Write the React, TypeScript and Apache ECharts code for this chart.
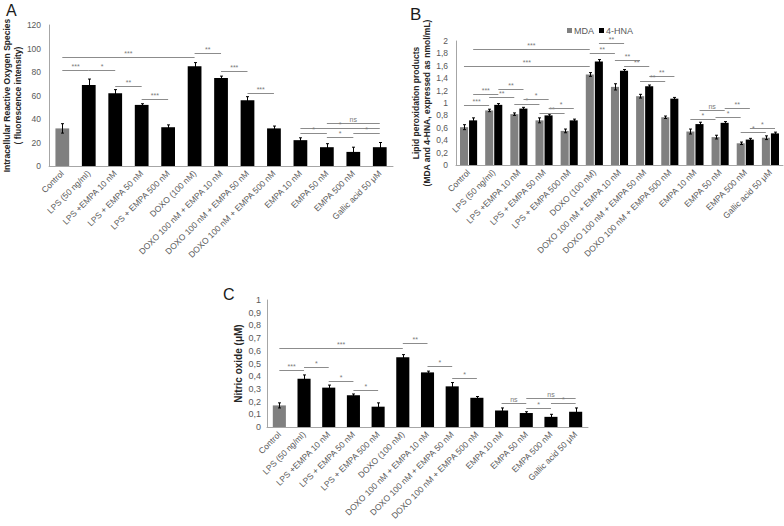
import React, { useEffect, useRef } from 'react';
import * as echarts from 'echarts';

const categories = [
  'Control',
  'LPS (50 ng/ml)',
  'LPS +EMPA 10 nM',
  'LPS + EMPA 50 nM',
  'LPS + EMPA 500 nM',
  'DOXO (100 nM)',
  'DOXO 100 nM + EMPA 10 nM',
  'DOXO 100 nM + EMPA 50 nM',
  'DOXO 100 nM + EMPA 500 nM',
  'EMPA 10 nM',
  'EMPA 50 nM',
  'EMPA 500 nM',
  'Gallic acid 50 μM',
];

// Panel A: intracellular ROS
const rosValues = [32, 69, 62, 52, 33, 85, 75, 56, 32, 22, 16, 12, 16];
const rosErrors = [4, 5, 3, 1, 2, 3, 1.5, 3, 2, 2, 3, 4, 4];

// Panel B: lipid peroxidation
const mdaValues = [0.61, 0.88, 0.82, 0.72, 0.55, 1.46, 1.26, 1.11, 0.77, 0.54, 0.45, 0.35, 0.44];
const mdaErrors = [0.04, 0.02, 0.02, 0.04, 0.03, 0.03, 0.05, 0.03, 0.02, 0.04, 0.03, 0.02, 0.03];
const hnaValues = [0.72, 0.97, 0.91, 0.8, 0.72, 1.67, 1.52, 1.27, 1.07, 0.66, 0.68, 0.41, 0.51];
const hnaErrors = [0.04, 0.02, 0.02, 0.02, 0.02, 0.03, 0.02, 0.02, 0.02, 0.03, 0.02, 0.02, 0.02];

// Panel C: nitric oxide
const noValues = [0.17, 0.38, 0.31, 0.25, 0.16, 0.55, 0.43, 0.32, 0.23, 0.13, 0.11, 0.08, 0.12];
const noErrors = [0.02, 0.03, 0.02, 0.01, 0.03, 0.02, 0.01, 0.03, 0.01, 0.02, 0.01, 0.02, 0.03];

// significance brackets: [fromIdx, toIdx, yValue, label]
const bracketsA: [number, number, number, string][] = [
  [0, 1, 82, '***'], [1, 2, 82, '*'], [2, 3, 68, '**'], [3, 4, 57, '***'],
  [0, 5, 93, '***'], [5, 6, 96.5, '**'], [6, 7, 81, '***'], [7, 8, 62, '***'],
  [10, 12, 36.3, 'ns'], [9, 12, 32.6, '*'], [9, 10, 28.3, '*'], [10, 11, 24.4, '*'], [11, 12, 28.3, '*'],
];
// [fromIdx, fromSide, toIdx, toSide, yValue, label] side -1 = MDA, 1 = 4-HNA
const bracketsB: [number, number, number, number, number, string][] = [
  [0, -1, 5, -1, 1.59, '***'], [0, 1, 5, -1, 1.87, '***'],
  [5, 1, 6, 1, 1.96, '**'], [5, -1, 6, -1, 1.81, '**'],
  [6, -1, 7, -1, 1.69, '**'], [6, 1, 7, 1, 1.6, '**'],
  [7, 1, 8, 1, 1.43, '**'], [7, -1, 8, -1, 1.36, '**'],
  [0, -1, 1, -1, 0.97, '***'], [0, 1, 1, 1, 1.15, '***'],
  [1, -1, 2, -1, 1.1, '**'], [1, 1, 2, 1, 1.23, '**'],
  [2, -1, 3, -1, 0.98, '*'], [2, 1, 3, 1, 1.06, '*'],
  [3, -1, 4, -1, 0.84, '**'], [3, 1, 4, 1, 0.92, '*'],
  [9, -1, 10, -1, 0.75, '*'], [9, 1, 10, 1, 0.88, 'ns'],
  [10, -1, 11, -1, 0.78, '*'], [10, 1, 11, 1, 0.92, '**'],
  [11, -1, 12, -1, 0.53, '*'], [11, 1, 12, 1, 0.6, '*'],
];
const bracketsC: [number, number, number, string][] = [
  [0, 5, 0.62, '***'], [5, 6, 0.66, '**'], [0, 1, 0.445, '***'], [1, 2, 0.47, '*'],
  [2, 3, 0.36, '*'], [3, 4, 0.29, '*'], [6, 7, 0.48, '*'], [7, 8, 0.385, '*'],
  [9, 10, 0.19, 'ns'], [10, 12, 0.225, 'ns'], [10, 11, 0.15, '*'], [11, 12, 0.19, '*'],
];

const FONT = 'Liberation Sans, Arial, sans-serif';
const GRAY = '#808080';
const LINE = '#8c8c8c';
const SIDE_FRAC = 0.183;

function bracketSeries(idx: number, list: { from: number; fs: number; to: number; ts: number; y: number; label: string }[]) {
  return {
    type: 'custom',
    xAxisIndex: idx,
    yAxisIndex: idx,
    silent: true,
    z: 5,
    data: list.map((b) => [b.from, b.y]),
    renderItem: (params: any, api: any) => {
      const b = list[params.dataIndex];
      const band = api.size([1, 0])[0];
      const p1 = api.coord([b.from, b.y]);
      const p2 = api.coord([b.to, b.y]);
      const x1 = p1[0] + b.fs * band * SIDE_FRAC;
      const x2 = p2[0] + b.ts * band * SIDE_FRAC;
      const y = Math.round(p1[1]) + 0.5;
      return {
        type: 'group',
        children: [
          { type: 'line', shape: { x1, y1: y, x2, y2: y }, style: { stroke: LINE, lineWidth: 1 } },
          {
            type: 'text',
            x: (x1 + x2) / 2,
            y: y - 1,
            style: { text: b.label, fill: '#7a7a7a', fontSize: 7, fontFamily: FONT, align: 'center', verticalAlign: 'bottom' },
          },
        ],
      };
    },
  };
}

function errorSeries(idx: number, values: number[], errors: number[], side: number) {
  return {
    type: 'custom',
    xAxisIndex: idx,
    yAxisIndex: idx,
    silent: true,
    z: 4,
    data: values.map((v, i) => [i, v, errors[i]]),
    renderItem: (params: any, api: any) => {
      const i = api.value(0);
      const v = api.value(1);
      const e = api.value(2);
      const band = api.size([1, 0])[0];
      const hi = api.coord([i, v + e]);
      const lo = api.coord([i, v - e]);
      const x = Math.round(hi[0] + side * band * SIDE_FRAC) + 0.5;
      const st = { stroke: '#000', lineWidth: 1 };
      return {
        type: 'group',
        children: [
          { type: 'line', shape: { x1: x, y1: hi[1], x2: x, y2: lo[1] }, style: st },
          { type: 'line', shape: { x1: x - 1.5, y1: hi[1], x2: x + 1.5, y2: hi[1] }, style: st },
          { type: 'line', shape: { x1: x - 1.5, y1: lo[1], x2: x + 1.5, y2: lo[1] }, style: st },
        ],
      };
    },
  };
}

const commaFmt = (v: number) => String(Math.round(v * 10) / 10).replace('.', ',');

function xAxis(idx: number) {
  return {
    type: 'category',
    gridIndex: idx,
    data: categories,
    axisTick: { show: false },
    axisLine: { lineStyle: { color: '#a6a6a6', width: 1 } },
    axisLabel: { rotate: 45, interval: 0, fontSize: 8.5, color: '#595959', fontFamily: FONT, margin: 6 },
  };
}

function yAxis(idx: number, max: number, interval: number, name: string, gap: number, nameSize: number, labelSize: number, margin: number, fmt?: (v: number) => string) {
  return {
    type: 'value',
    gridIndex: idx,
    min: 0,
    max,
    interval,
    name,
    nameLocation: 'middle',
    nameGap: gap,
    nameTextStyle: { fontWeight: 'bold', fontSize: nameSize, color: '#262626', fontFamily: FONT, lineHeight: nameSize + 2.5 },
    splitLine: { show: false },
    axisTick: { show: false },
    axisLine: { show: true, lineStyle: { color: '#a6a6a6', width: 1 } },
    axisLabel: { fontSize: labelSize, color: '#595959', fontFamily: FONT, margin, formatter: fmt },
  };
}

export default function App() {
  const ref = useRef<HTMLDivElement>(null);
  useEffect(() => {
    if (!ref.current) return;
    const chart = echarts.init(ref.current, null, { renderer: 'svg' });
    const colored = (vals: number[]) =>
      vals.map((v, i) => ({ value: v, itemStyle: { color: i === 0 ? GRAY : '#000' } }));
    chart.setOption({
      animation: false,
      backgroundColor: '#fff',
      textStyle: { fontFamily: FONT },
      title: [
        { text: 'A', left: 1, top: -3, textStyle: { fontSize: 16, fontWeight: 'normal', color: '#1a1a1a', fontFamily: FONT } },
        { text: 'B', left: 405, top: 1, textStyle: { fontSize: 17, fontWeight: 'normal', color: '#1a1a1a', fontFamily: FONT } },
        { text: 'C', left: 218, top: 281, textStyle: { fontSize: 16, fontWeight: 'normal', color: '#1a1a1a', fontFamily: FONT } },
      ],
      legend: {
        data: ['MDA', '4-HNA'],
        left: 562,
        top: 21,
        icon: 'rect',
        itemWidth: 5,
        itemHeight: 5,
        itemGap: 5,
        textStyle: { fontSize: 9, color: '#595959', fontFamily: FONT, padding: [0, 0, 0, -3] },
      },
      grid: [
        { left: 46, top: 25, width: 347, height: 141 },
        { left: 456, top: 41, width: 327, height: 124 },
        { left: 267, top: 300, width: 321, height: 127 },
      ],
      xAxis: [xAxis(0), xAxis(1), xAxis(2)],
      yAxis: [
        yAxis(0, 120, 20, 'Intracellular Reactive Oxygen Species\n( fluorescence intensity)', 23, 8.5, 8.5, 8),
        yAxis(1, 2, 0.2, 'Lipid peroxidation products\n(MDA and 4-HNA, expressed as nmol/mL)', 19, 8.5, 8.5, 8, commaFmt),
        yAxis(2, 1, 0.1, 'Nitric oxide (μM)', 14, 10, 9, 6, commaFmt),
      ],
      series: [
        { type: 'bar', xAxisIndex: 0, yAxisIndex: 0, data: colored(rosValues), barCategoryGap: '48%', silent: true },
        errorSeries(0, rosValues, rosErrors, 0),
        bracketSeries(0, bracketsA.map(([f, t, y, l]) => ({ from: f, fs: 0, to: t, ts: 0, y, label: l }))),
        { type: 'bar', name: 'MDA', xAxisIndex: 1, yAxisIndex: 1, data: mdaValues, itemStyle: { color: GRAY }, barCategoryGap: '32%', barGap: '12%', silent: true },
        { type: 'bar', name: '4-HNA', xAxisIndex: 1, yAxisIndex: 1, data: hnaValues, itemStyle: { color: '#000' }, barCategoryGap: '32%', barGap: '12%', silent: true },
        errorSeries(1, mdaValues, mdaErrors, -1),
        errorSeries(1, hnaValues, hnaErrors, 1),
        bracketSeries(1, bracketsB.map(([f, fs, t, ts, y, l]) => ({ from: f, fs, to: t, ts, y, label: l }))),
        { type: 'bar', xAxisIndex: 2, yAxisIndex: 2, data: colored(noValues), barCategoryGap: '47%', silent: true },
        errorSeries(2, noValues, noErrors, 0),
        bracketSeries(2, bracketsC.map(([f, t, y, l]) => ({ from: f, fs: 0, to: t, ts: 0, y, label: l }))),
      ],
    });
    return () => chart.dispose();
  }, []);
  return <div ref={ref} style={{ position: 'fixed', left: 0, top: 0, width: 784, height: 526 }} />;
}
